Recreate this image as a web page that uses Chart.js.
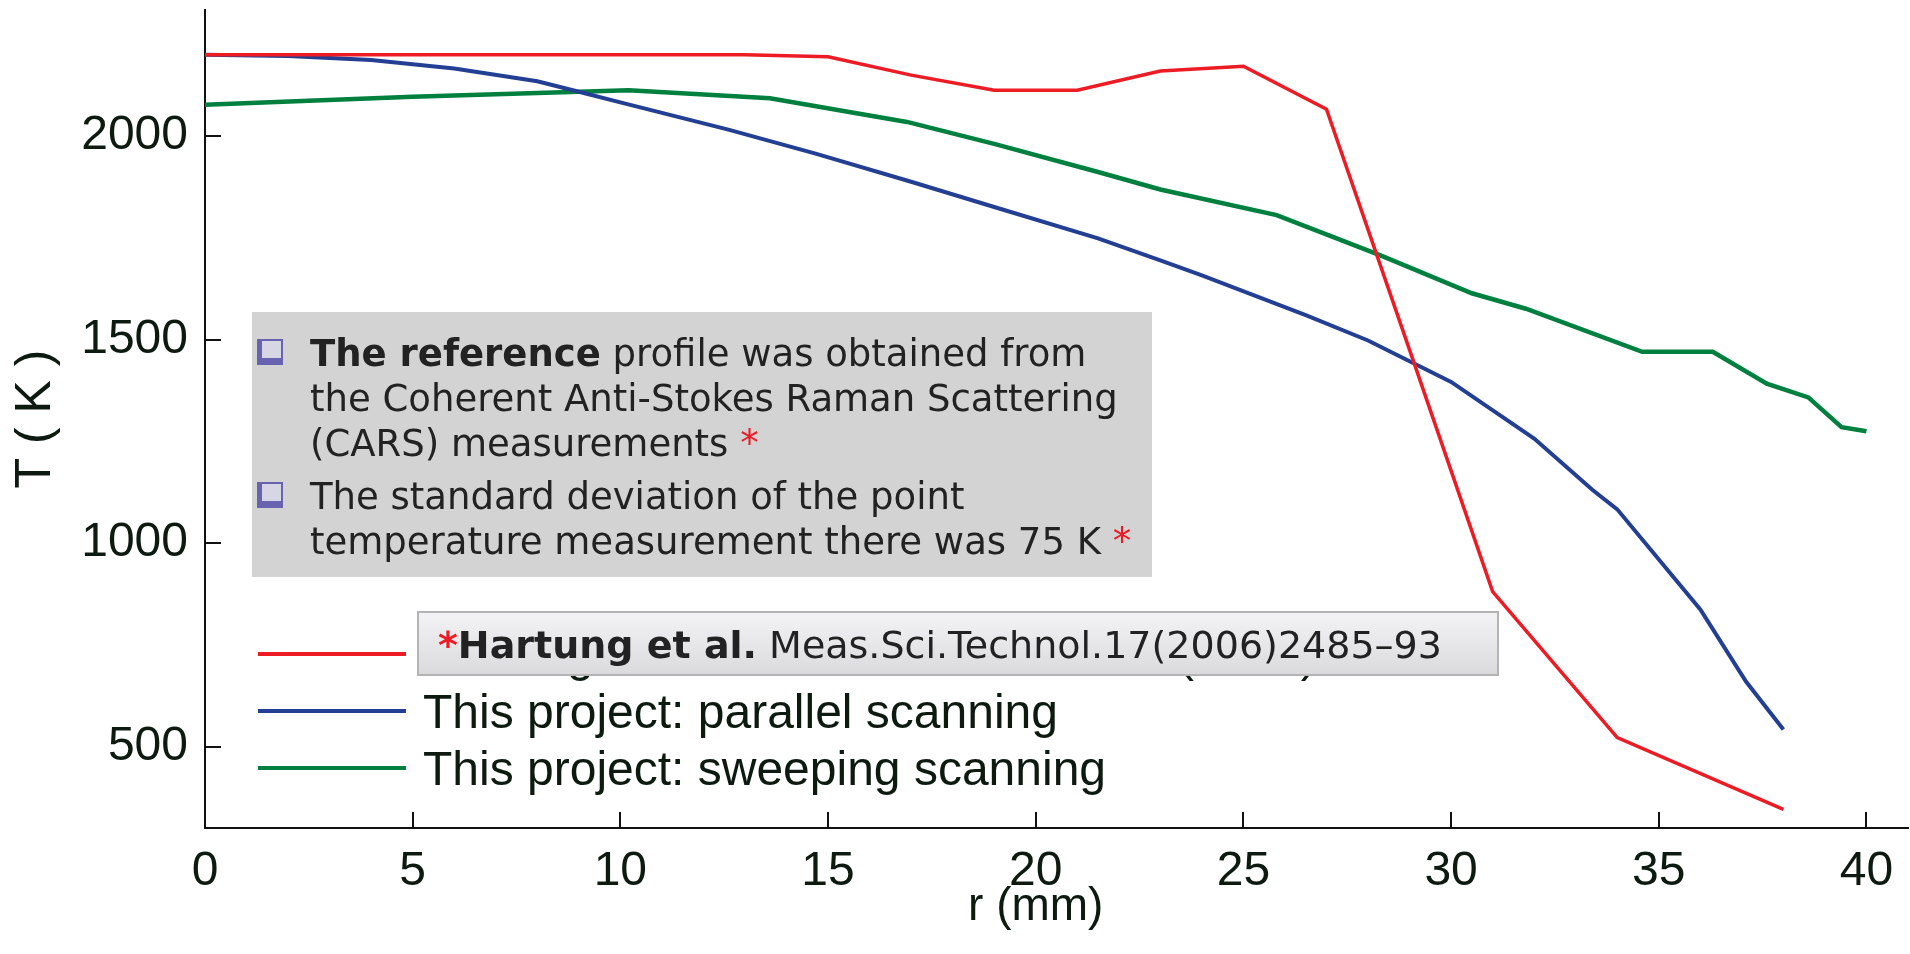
<!DOCTYPE html>
<html>
<head>
<meta charset="utf-8">
<title>Temperature profile</title>
<script src="https://cdn.jsdelivr.net/npm/chart.js@4.4.0/dist/chart.umd.min.js"></script>
<style>
  html, body { margin: 0; padding: 0; background: #fff; overflow: hidden; }
  #wrap { position: relative; width: 1910px; height: 954px; }
</style>
</head>
<body>
<div id="wrap"><canvas id="chart" width="1910" height="954"></canvas></div>
<script>
// tick labels
var xTicks = [0, 5, 10, 15, 20, 25, 30, 35, 40]
var yTicks = [500, 1000, 1500, 2000]

// reference profile (CARS, Hartung et al.)
var refR = [0, 13, 15, 17, 19, 21, 23, 25, 27, 29, 31, 34, 38]
var refT = [2200, 2200, 2195, 2150, 2113, 2113, 2160, 2172, 2066, 1475, 881, 522, 346]

// this project: parallel scanning
var parR = [0, 2, 4, 6, 8, 9, 10, 12.6, 14.7, 17, 19, 21.5, 23, 24, 26.5, 28, 30, 32, 33.4, 34, 36, 37.1, 38]
var parT = [2200, 2197, 2187, 2166, 2135, 2109, 2083, 2016, 1957, 1888, 1826, 1749, 1695, 1658, 1560, 1498, 1396, 1257, 1131, 1083, 837, 660, 542]

// this project: sweeping scanning
var swpR = [0, 5, 10.2, 13.6, 16.9, 19, 21.5, 23, 25.8, 28.3, 30.5, 31.8, 34.6, 36.3, 37.6, 38.6, 39.4, 40]
var swpT = [2077, 2097, 2113, 2093, 2035, 1981, 1912, 1869, 1806, 1707, 1614, 1576, 1470, 1470, 1392, 1358, 1285, 1275]

var seriesNames = ['Hartung et al. CARS measurement (2006)', 'This project: parallel scanning', 'This project: sweeping scanning']
var seriesColors = ['#ed1c24', '#233f94', '#00803e']

var axisColor = '#111'
var labelColor = '#0d1a10'

function pairs(r, t) {
  return r.map(function (v, i) { return { x: v, y: t[i] } })
}

// inward tick marks, x title, legend and the two notes
var extras = {
  id: 'extras',
  beforeDatasetsDraw: function (chart) {
    var ctx = chart.ctx, a = chart.chartArea, xs = chart.scales.x, ys = chart.scales.y
    ctx.save()
    ctx.strokeStyle = axisColor
    ctx.lineWidth = 2
    ctx.beginPath()
    xTicks.forEach(function (v) {
      var px = Math.round(xs.getPixelForValue(v))
      ctx.moveTo(px, a.bottom); ctx.lineTo(px, a.bottom - 16)
    })
    yTicks.forEach(function (v) {
      var py = Math.round(ys.getPixelForValue(v))
      ctx.moveTo(a.left, py); ctx.lineTo(a.left + 16, py)
    })
    ctx.stroke()

    ctx.fillStyle = labelColor
    ctx.font = '46px "Liberation Sans", Arial, sans-serif'
    ctx.textAlign = 'center'
    ctx.textBaseline = 'alphabetic'
    ctx.fillText('r (mm)', xs.getPixelForValue(20), 920)
    ctx.restore()
  },
  afterDraw: function (chart) {
    var ctx = chart.ctx
    ctx.save()
    ctx.textAlign = 'left'
    ctx.textBaseline = 'alphabetic'

    // legend
    var rows = [654, 711, 768]
    ctx.font = '48px "Liberation Sans", Arial, sans-serif'
    rows.forEach(function (y, i) {
      ctx.strokeStyle = seriesColors[i]
      ctx.lineWidth = 4
      ctx.beginPath(); ctx.moveTo(258, y); ctx.lineTo(406, y); ctx.stroke()
      ctx.fillStyle = labelColor
      ctx.fillText(seriesNames[i], 423, y + 17)
    })

    function runs(x, y, list) {
      list.forEach(function (r) {
        ctx.font = (r.b ? 'bold ' : '') + r.s + 'px "DejaVu Sans", Verdana, sans-serif'
        ctx.fillStyle = r.c
        ctx.fillText(r.t, x, y)
        x += ctx.measureText(r.t).width
      })
    }
    function bullet(x, y) {
      ctx.fillStyle = '#6763b0'
      ctx.fillRect(x, y, 26, 26)
      ctx.fillStyle = '#d6d6e4'
      ctx.fillRect(x + 5, y + 2, 19, 17)
    }

    // grey note box
    ctx.fillStyle = '#d3d3d3'
    ctx.fillRect(252, 312, 900, 265)
    var fs = 37, dark = '#222', red = '#ed1c24'
    bullet(257, 339)
    runs(310, 366, [{ t: 'The reference', b: true, s: fs, c: dark }, { t: ' profile was obtained from', s: fs, c: dark }])
    runs(310, 411, [{ t: 'the Coherent Anti-Stokes Raman Scattering', s: fs, c: dark }])
    runs(310, 456, [{ t: '(CARS) measurements ', s: fs, c: dark }, { t: '*', s: fs, c: red }])
    bullet(257, 482)
    runs(310, 509, [{ t: 'The standard deviation of the point', s: fs, c: dark }])
    runs(310, 554, [{ t: 'temperature measurement there was 75 K ', s: fs, c: dark }, { t: '*', s: fs, c: red }])

    // citation box
    var g = ctx.createLinearGradient(0, 611, 0, 676)
    g.addColorStop(0, '#f4f4f6')
    g.addColorStop(1, '#dadadc')
    ctx.fillStyle = g
    ctx.fillRect(417, 611, 1082, 65)
    ctx.strokeStyle = '#b4b4b4'
    ctx.lineWidth = 2
    ctx.strokeRect(418, 612, 1080, 63)
    runs(438, 658, [
      { t: '*', b: true, s: 38, c: red },
      { t: 'Hartung et al.', b: true, s: 38, c: dark },
      { t: ' Meas.Sci.Technol.17(2006)2485\u201393', s: 38, c: dark }
    ])
    ctx.restore()
  }
}

var tickFont = { family: '"Liberation Sans", Arial, sans-serif', size: 48 }

new Chart(document.getElementById('chart'), {
  type: 'line',
  data: {
    datasets: [
      { label: seriesNames[0], data: pairs(refR, refT), borderColor: seriesColors[0], borderWidth: 3.5 },
      { label: seriesNames[1], data: pairs(parR, parT), borderColor: seriesColors[1], borderWidth: 4 },
      { label: seriesNames[2], data: pairs(swpR, swpT), borderColor: seriesColors[2], borderWidth: 4.5 }
    ]
  },
  options: {
    responsive: false,
    animation: false,
    devicePixelRatio: 1,
    elements: { point: { radius: 0 }, line: { tension: 0, fill: false } },
    layout: { padding: { top: 10, right: 2, left: 0, bottom: 0 } },
    plugins: { legend: { display: false }, tooltip: { enabled: false } },
    scales: {
      x: {
        type: 'linear',
        min: 0,
        max: 41,
        border: { display: true, color: axisColor, width: 2 },
        grid: { display: false, drawTicks: false },
        ticks: {
          font: tickFont, color: labelColor, padding: 15, maxRotation: 0, minRotation: 0, autoSkip: false,
          callback: function (v) { return String(v) }
        },
        afterBuildTicks: function (s) { s.ticks = xTicks.map(function (v) { return { value: v } }) },
        afterFit: function (s) {
          s.height = 126
          s.paddingLeft = 0; s.paddingRight = 0; s.paddingTop = 0; s.paddingBottom = 0
        }
      },
      y: {
        min: 300,
        max: 2310,
        border: { display: true, color: axisColor, width: 2 },
        grid: { display: false, drawTicks: false },
        ticks: {
          font: tickFont, color: labelColor, padding: 17, autoSkip: false,
          callback: function (v) { return String(v) }
        },
        afterBuildTicks: function (s) { s.ticks = yTicks.map(function (v) { return { value: v } }) },
        afterFit: function (s) {
          s.width = 205
          s.paddingLeft = 0; s.paddingRight = 0; s.paddingTop = 0; s.paddingBottom = 0
        },
        title: {
          display: true,
          text: 'T ( K )',
          color: labelColor,
          font: { family: '"Liberation Sans", Arial, sans-serif', size: 50 },
          padding: { top: 6, bottom: 0 }
        }
      }
    }
  },
  plugins: [extras]
})
</script>
</body>
</html>
